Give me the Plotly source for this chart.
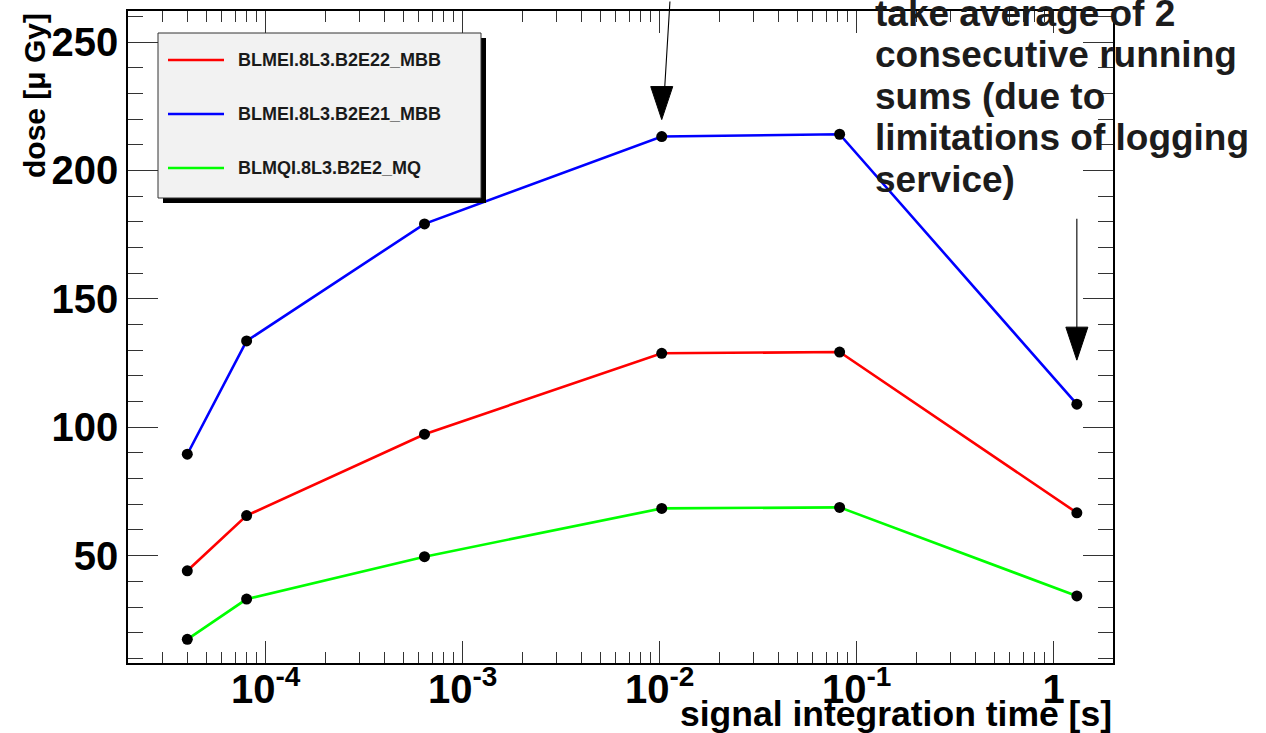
import numpy as np
import plotly.graph_objects as go

# ---------------- data ----------------
integration_time_s = [4e-5, 8e-5, 6.4e-4, 1.024e-2, 8.192e-2, 1.31072]
series_names = ["BLMEI.8L3.B2E22_MBB", "BLMEI.8L3.B2E21_MBB", "BLMQI.8L3.B2E2_MQ"]
series_colors = ["#ff0000", "#0000ff", "#00ff00"]
dose_e22_mbb = [44.1, 65.6, 97.3, 128.8, 129.3, 66.7]
dose_e21_mbb = [89.5, 133.6, 179.2, 213.2, 214.1, 109.0]
dose_e2_mq = [17.4, 33.1, 49.6, 68.4, 68.8, 34.3]
x_tick_values = [1e-4, 1e-3, 1e-2, 1e-1, 1]
x_tick_labels = ["10<sup>-4</sup>", "10<sup>-3</sup>", "10<sup>-2</sup>", "10<sup>-1</sup>", "1"]
y_range = [8.2, 262.1]
x_range_s = [2e-5, 2.0]
note_lines = ["take average of 2", "consecutive running", "sums (due to",
              "limitations of logging", "service)"]
x_title = "signal integration time [s]"
y_title = "dose [\u03bc Gy]"

series_values = [dose_e22_mbb, dose_e21_mbb, dose_e2_mq]

# ---------------- layout geometry (pixels) ----------------
W_FIG, H_FIG = 1266, 733
L, R, T, B = 128, 153, 11, 70
PW, PH = W_FIG - L - R, H_FIG - T - B


def px(x):
    return (x - L) / PW


def py(y):
    return (T + PH - y) / PH


FONT = "Liberation Sans, Arial, sans-serif"

fig = go.Figure()
for name, color, vals in zip(series_names, series_colors, series_values):
    fig.add_trace(go.Scatter(
        x=integration_time_s, y=vals, name=name, mode="lines+markers",
        line=dict(color=color, width=2.6),
        marker=dict(color="black", size=11, symbol="circle"),
        showlegend=False,
    ))

# minor ticks for the log axis
minor_x = []
for dec in range(-5, 1):
    for m in range(2, 10):
        v = m * 10.0 ** dec
        if x_range_s[0] <= v <= x_range_s[1]:
            minor_x.append(v)

fig.update_xaxes(
    type="log", range=[np.log10(x_range_s[0]), np.log10(x_range_s[1])],
    showline=True, linecolor="black", linewidth=1.5, mirror="ticks",
    showgrid=False, zeroline=False,
    tickmode="array", tickvals=x_tick_values, ticktext=x_tick_labels,
    ticks="inside", ticklen=22, tickwidth=1.3, tickcolor="#333333",
    ticklabelstandoff=-10,
    tickfont=dict(family=FONT, size=40, color="black", weight="bold"),
    minor=dict(tickmode="array", tickvals=minor_x, ticks="inside", ticklen=11,
               tickwidth=1.3, tickcolor="#333333", showgrid=False),
)
fig.update_yaxes(
    range=y_range, showline=True, linecolor="black", linewidth=1.5, mirror="ticks",
    showgrid=False, zeroline=False,
    tickmode="linear", tick0=0, dtick=50,
    ticks="inside", ticklen=30, tickwidth=1.3, tickcolor="#333333",
    tickfont=dict(family=FONT, size=40, color="black", weight="bold"),
    minor=dict(dtick=10, tick0=0, ticks="inside", ticklen=15, tickwidth=1.3,
               tickcolor="#333333", showgrid=False),
)

shapes = []
annotations = []

# ---- legend box (ROOT style with shadow) ----
shapes.append(dict(type="rect", xref="paper", yref="paper", layer="above",
                   x0=px(163), x1=px(486), y0=py(203), y1=py(38),
                   fillcolor="black", line=dict(width=0)))
shapes.append(dict(type="rect", xref="paper", yref="paper", layer="above",
                   x0=px(158), x1=px(481), y0=py(198), y1=py(33),
                   fillcolor="#f2f2f2", line=dict(color="#333333", width=1)))
for i, (name, color) in enumerate(zip(series_names, series_colors)):
    yy = 60 + i * 54
    shapes.append(dict(type="line", xref="paper", yref="paper", layer="above",
                       x0=px(168), x1=px(224), y0=py(yy), y1=py(yy),
                       line=dict(color=color, width=2.5)))
    annotations.append(dict(xref="paper", yref="paper", x=px(236), y=py(yy),
                            xanchor="left", yanchor="middle", showarrow=False,
                            text=name,
                            font=dict(family=FONT, size=18, color="#1a1a1a", weight="bold")))

# ---- axis titles ----
annotations.append(dict(xref="paper", yref="paper", x=px(34), y=py(96),
                        xanchor="center", yanchor="middle", showarrow=False,
                        text=y_title, textangle=-90,
                        font=dict(family=FONT, size=30, color="black", weight="bold")))
annotations.append(dict(xref="paper", yref="paper", x=px(1114), y=py(714),
                        xanchor="right", yanchor="middle", showarrow=False,
                        text=x_title,
                        font=dict(family=FONT, size=35.5, color="black", weight="bold")))

# ---- note text ----
for i, line in enumerate(note_lines):
    baseline = 26 + i * 41.5
    annotations.append(dict(xref="paper", yref="paper", x=px(873), y=py(baseline - 12.8),
                            xanchor="left", yanchor="middle", showarrow=False,
                            text=line,
                            font=dict(family=FONT, size=37, color="#1c1c1c", weight="bold")))

# ---- arrows pointing at data points ----
arrow_specs = [
    # (index of point on blue series, tail dx, tail dy(up), tip up, base up, standoff)
    (3, 8.3, 150, 17, 50, 30),
    (5, 0.0, 187, 44, 77, 50),
]
for idx, tdx, tdy, tip, base, stand in arrow_specs:
    xv = integration_time_s[idx]
    yv = dose_e21_mbb[idx]
    annotations.append(dict(xref="x", yref="y", x=np.log10(xv), y=yv, text="",
                            showarrow=True, arrowhead=0, arrowwidth=1.1,
                            arrowcolor="black", ax=tdx, ay=-tdy, standoff=stand))
    shapes.append(dict(type="path", xref="x", yref="y", layer="above",
                       xsizemode="pixel", ysizemode="pixel",
                       xanchor=xv, yanchor=yv,
                       path=f"M -11,{base} L 11,{base} L 0,{tip} Z",
                       fillcolor="black", line=dict(color="black", width=1)))

fig.update_layout(
    width=W_FIG, height=H_FIG,
    margin=dict(l=L, r=R, t=T, b=B, autoexpand=False),
    plot_bgcolor="white", paper_bgcolor="white",
    showlegend=False,
    shapes=shapes, annotations=annotations,
)

fig.write_html(
    "out.html",
    config={"displayModeBar": False},
    post_script="document.body.style.margin='0';document.body.style.overflow='hidden';",
)
